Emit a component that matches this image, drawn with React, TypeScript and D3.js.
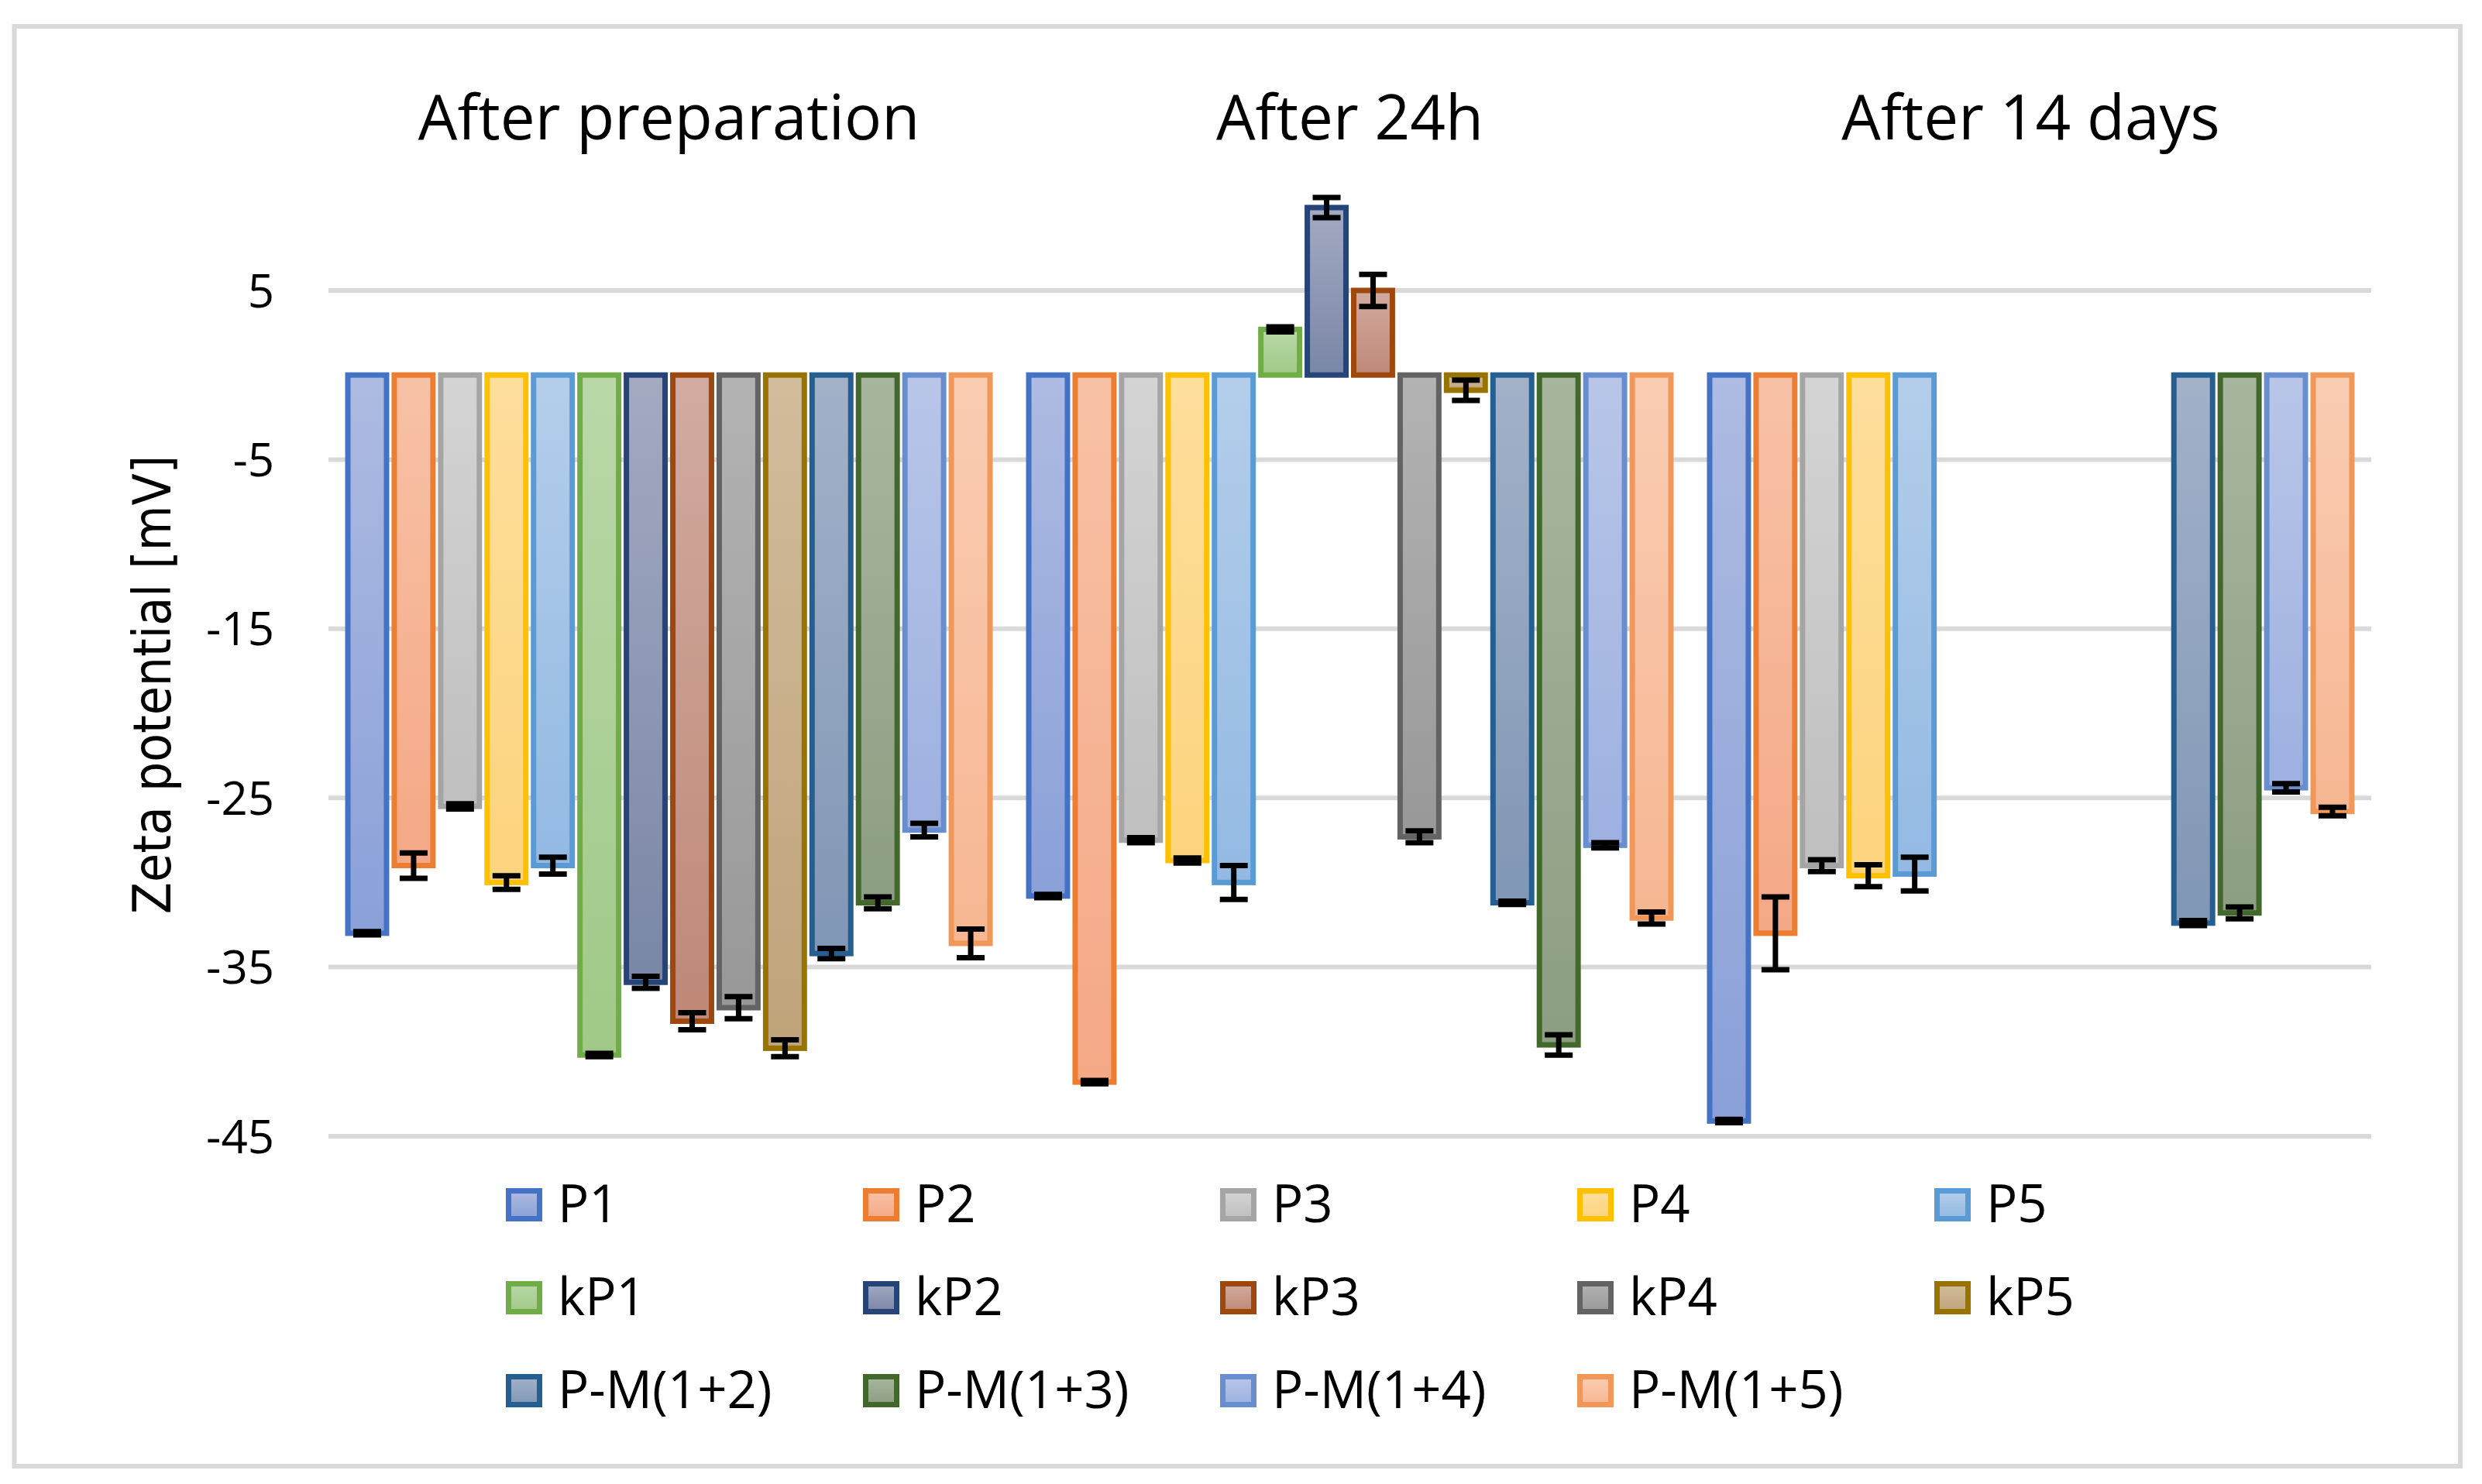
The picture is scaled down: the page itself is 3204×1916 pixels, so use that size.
import * as d3 from "d3"

const categories = ["After preparation", "After 24h", "After 14 days"]

const seriesNames = [
  "P1", "P2", "P3", "P4", "P5",
  "kP1", "kP2", "kP3", "kP4", "kP5",
  "P-M(1+2)", "P-M(1+3)", "P-M(1+4)", "P-M(1+5)",
]

// one value per category, null = not measured
const p1 = [-33.0, -30.8, -44.1]
const p2 = [-29.0, -41.8, -33.0]
const p3 = [-25.5, -27.5, -29.0]
const p4 = [-30.0, -28.7, -29.6]
const p5 = [-29.0, -30.0, -29.5]
const kp1 = [-40.2, 2.7, null]
const kp2 = [-35.9, 9.9, null]
const kp3 = [-38.2, 5.0, null]
const kp4 = [-37.4, -27.3, null]
const kp5 = [-39.8, -0.9, null]
const pm12 = [-34.2, -31.2, -32.4]
const pm13 = [-31.2, -39.6, -31.8]
const pm14 = [-26.9, -27.8, -24.4]
const pm15 = [-33.6, -32.1, -25.8]

// standard deviations
const p1Err = [0.1, 0.1, 0.1]
const p2Err = [0.75, 0.1, 2.15]
const p3Err = [0.15, 0.15, 0.35]
const p4Err = [0.4, 0.15, 0.65]
const p5Err = [0.5, 1.0, 1.0]
const kp1Err = [0.1, 0.15, null]
const kp2Err = [0.35, 0.6, null]
const kp3Err = [0.5, 0.95, null]
const kp4Err = [0.65, 0.35, null]
const kp5Err = [0.5, 0.6, null]
const pm12Err = [0.3, 0.1, 0.15]
const pm13Err = [0.35, 0.6, 0.35]
const pm14Err = [0.4, 0.15, 0.25]
const pm15Err = [0.85, 0.35, 0.25]

const yTicks = [5, -5, -15, -25, -35, -45]

const values = [p1, p2, p3, p4, p5, kp1, kp2, kp3, kp4, kp5, pm12, pm13, pm14, pm15]
const errors = [p1Err, p2Err, p3Err, p4Err, p5Err, kp1Err, kp2Err, kp3Err, kp4Err, kp5Err, pm12Err, pm13Err, pm14Err, pm15Err]

// outline, light fill (top), dark fill (bottom)
const palette = [
  ["#4472C4", "#AEBBE2", "#8AA0D8"],
  ["#ED7D31", "#F8C2A6", "#F4A886"],
  ["#A5A5A5", "#D4D4D4", "#BFBFBF"],
  ["#FFC000", "#FEDE9C", "#FDD47E"],
  ["#5B9BD5", "#B4CEEA", "#93B9E3"],
  ["#70AD47", "#B9D8A8", "#A0C987"],
  ["#264478", "#A3AAC2", "#7A86A6"],
  ["#9E480E", "#D2ABA0", "#BF8877"],
  ["#636363", "#B3B3B3", "#989898"],
  ["#997300", "#D2BC9C", "#BFA47A"],
  ["#255E91", "#A3B1C9", "#8097B5"],
  ["#43682B", "#A8B6A0", "#8C9E82"],
  ["#698ED0", "#B9C6E8", "#9DB0E0"],
  ["#F1975A", "#FACDB3", "#F6B692"],
]

const W = 3204
const H = 1916
const plot = { left: 424, right: 3061, top: 375, bottom: 1467 }
const labelFont = "'Open Sans', 'Noto Sans', sans-serif"

export default function App() {
  const x0 = d3.scaleBand<string>().domain(categories).range([plot.left, plot.right]).paddingInner(0.0455).paddingOuter(0.0228)
  const x1 = d3.scaleBand<string>().domain(seriesNames).range([0, x0.bandwidth()]).paddingInner(0.05).paddingOuter(0.025)
  const y = d3.scaleLinear().domain([-45, 5]).range([plot.bottom, plot.top])

  const barStroke = 7
  const capW = 36

  const legendCol = d3.scaleLinear().domain([0, 1]).range([653, 1114])
  const legendRow = d3.scaleLinear().domain([0, 1]).range([1534, 1654])

  return (
    <svg width={W} height={H} style={{ position: "absolute", left: 0, top: 0, background: "#fff" }}>
      <defs>
        {palette.map((c, i) => (
          <linearGradient key={i} id={`grad${i}`} x1="0" y1="0" x2="0" y2="1">
            <stop offset="0" stopColor={c[1]} />
            <stop offset="1" stopColor={c[2]} />
          </linearGradient>
        ))}
      </defs>

      <rect x={0} y={0} width={W} height={H} fill="#fff" />
      <rect x={18.5} y={34} width={3176 - 18.5} height={1893 - 34} fill="none" stroke="#d9d9d9" strokeWidth={6} />

      {/* gridlines */}
      {yTicks.map((t) => (
        <line key={t} x1={plot.left} x2={plot.right} y1={y(t)} y2={y(t)} stroke="#d9d9d9" strokeWidth={6} />
      ))}

      {/* y tick labels */}
      {yTicks.map((t) => (
        <text key={t} x={354} y={y(t)} dy="0.36em" textAnchor="end" fontFamily={labelFont} fontSize={60} fill="#000">
          {t}
        </text>
      ))}

      {/* y axis title */}
      <text
        transform={`translate(220,884) rotate(-90)`}
        textAnchor="middle"
        fontFamily="'DejaVu Sans Condensed', 'DejaVu Sans', sans-serif"
        fontSize={67}
        fill="#000"
      >
        Zeta potential [mV]
      </text>

      {/* category titles */}
      {categories.map((c) => (
        <text key={c} x={(x0(c) ?? 0) + x0.bandwidth() / 2} y={180} textAnchor="middle" fontFamily={labelFont} fontSize={80} fill="#000">
          {c}
        </text>
      ))}

      {/* bars */}
      {seriesNames.map((s, si) =>
        categories.map((c, ci) => {
          const v = values[si][ci]
          if (v == null) return null
          const bx = (x0(c) ?? 0) + (x1(s) ?? 0)
          const y0 = y(0)
          const yv = y(v)
          return (
            <rect
              key={`${s}-${c}`}
              x={bx + barStroke / 2}
              y={Math.min(y0, yv)}
              width={x1.bandwidth() - barStroke}
              height={Math.abs(yv - y0)}
              fill={`url(#grad${si})`}
              stroke={palette[si][0]}
              strokeWidth={barStroke}
            />
          )
        }),
      )}

      {/* error bars */}
      {seriesNames.map((s, si) =>
        categories.map((c, ci) => {
          const v = values[si][ci]
          const e = errors[si][ci]
          if (v == null || e == null) return null
          const cx = (x0(c) ?? 0) + (x1(s) ?? 0) + x1.bandwidth() / 2
          const yHi = y(v + e)
          const yLo = y(v - e)
          return (
            <g key={`err-${s}-${c}`} stroke="#000" strokeWidth={7}>
              <line x1={cx} x2={cx} y1={yHi} y2={yLo} />
              <line x1={cx - capW / 2} x2={cx + capW / 2} y1={yHi} y2={yHi} />
              <line x1={cx - capW / 2} x2={cx + capW / 2} y1={yLo} y2={yLo} />
            </g>
          )
        }),
      )}

      {/* legend */}
      {seriesNames.map((s, si) => {
        const col = si % 5
        const row = Math.floor(si / 5)
        const lx = legendCol(col)
        const ly = legendRow(row)
        return (
          <g key={`leg-${s}`}>
            <rect x={lx + 3.5} y={ly + 3.5} width={40} height={36} fill={`url(#grad${si})`} stroke={palette[si][0]} strokeWidth={7} />
            <text x={lx + 67} y={ly + 44} fontFamily={labelFont} fontSize={67} fill="#000">
              {s}
            </text>
          </g>
        )
      })}
    </svg>
  )
}
